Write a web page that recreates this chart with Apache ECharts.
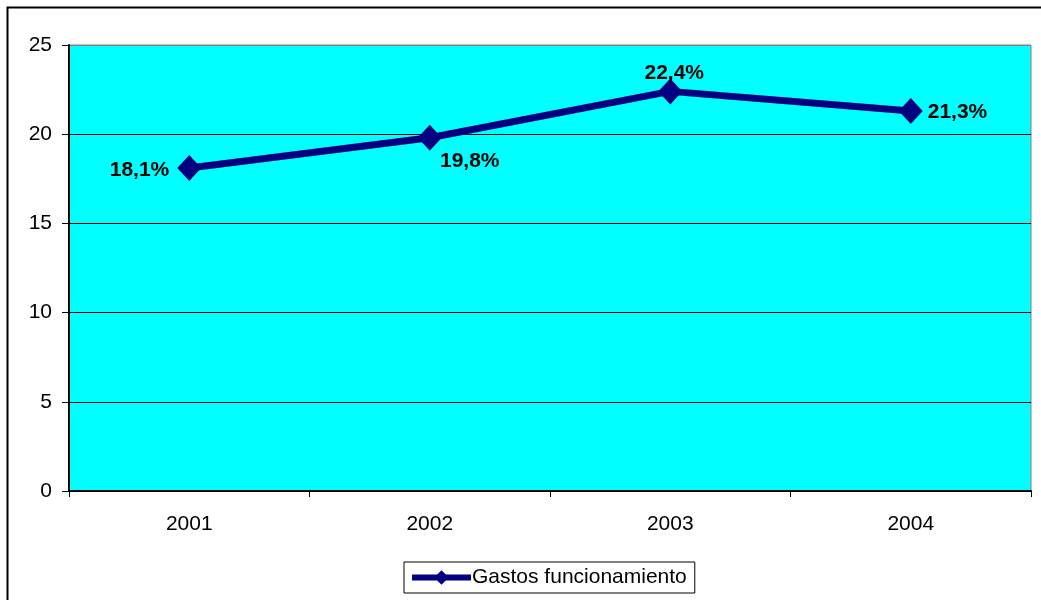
<!DOCTYPE html>
<html>
<head>
<meta charset="utf-8">
<script src="https://cdn.jsdelivr.net/npm/echarts@6/dist/echarts.min.js"></script>
<style>
  html, body { margin: 0; padding: 0; background: #fff; }
  #chart { width: 1041px; height: 600px; }
</style>
</head>
<body>
<div id="chart"></div>
<script>
// datos
const years = ['2001', '2002', '2003', '2004'];
const gastos = [18.1, 19.8, 22.4, 21.3];

// posicion de cada etiqueta
const labelCfg = [
  { position: 'left', distance: 8, offset: [0, 2] },
  { position: 'bottom', distance: 0, offset: [40, 0] },
  { position: 'top', distance: -5, offset: [4, 0] },
  { position: 'right', distance: 5, offset: [0, 1] }
];

const chart = echarts.init(document.getElementById('chart'));

chart.setOption({
  animation: false,
  textStyle: { fontFamily: 'Liberation Sans' },
  graphic: [{
    type: 'rect',
    shape: { x: 7.5, y: 7.5, width: 1060, height: 620 },
    style: { fill: 'none', stroke: '#000', lineWidth: 2 },
    silent: true
  }],
  grid: {
    left: 69, top: 45, right: 10, bottom: 109,
    show: true,
    backgroundColor: '#00ffff',
    borderColor: '#808080',
    borderWidth: 1
  },
  legend: {
    left: 404, top: 562,
    itemWidth: 59, itemHeight: 18,
    padding: [5, 8, 5, 5],
    borderColor: '#000', borderWidth: 1, borderRadius: 0,
    lineStyle: { width: 6, color: '#000080' },
    textStyle: { fontSize: 21, color: '#000', fontFamily: 'Liberation Sans', padding: [0, 0, 0, -4] },
    data: ['Gastos funcionamiento']
  },
  xAxis: {
    type: 'category',
    data: years,
    boundaryGap: true,
    axisLine: { lineStyle: { color: '#000', width: 2 } },
    axisTick: { show: true, length: 6, lineStyle: { color: '#000', width: 1 } },
    axisLabel: { fontSize: 21, color: '#000', margin: 23 },
    splitLine: { show: false }
  },
  yAxis: {
    type: 'value',
    min: 0, max: 25, interval: 5,
    axisLine: { show: true, lineStyle: { color: '#000', width: 2 } },
    axisTick: { show: true, length: 7, lineStyle: { color: '#000', width: 1 } },
    axisLabel: { fontSize: 21, color: '#000', margin: 17 },
    splitLine: {
      show: true,
      lineStyle: { color: ['#000', '#000', '#000', '#000', '#000', '#808080'], width: 1 }
    }
  },
  series: [{
    name: 'Gastos funcionamiento',
    type: 'line',
    data: gastos.map((v, i) => ({ value: v, label: labelCfg[i] })),
    symbol: 'diamond',
    symbolSize: [24, 26],
    lineStyle: { color: '#000080', width: 7 },
    itemStyle: { color: '#000080' },
    label: {
      show: true,
      fontSize: 21,
      fontWeight: 'bold',
      fontFamily: 'Liberation Sans',
      color: '#000',
      formatter: p => p.value.toFixed(1).replace('.', ',') + '%'
    }
  }]
});
</script>
</body>
</html>
